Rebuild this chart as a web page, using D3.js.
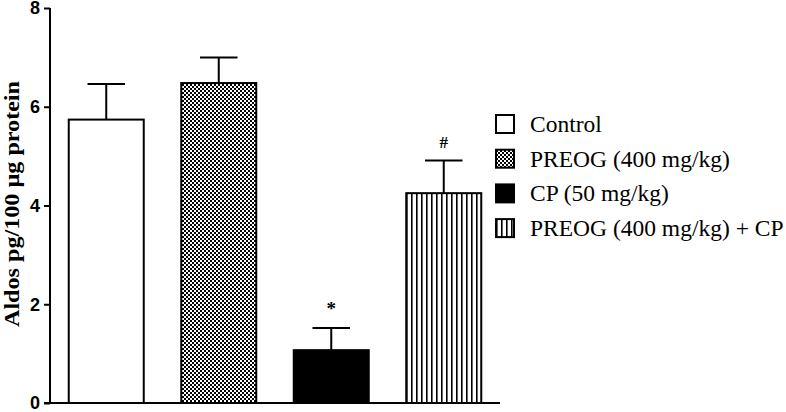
<!DOCTYPE html>
<html><head><meta charset="utf-8">
<script src="https://cdn.jsdelivr.net/npm/d3@7"></script>
<style>body{margin:0;background:#fff}svg{display:block}</style>
</head><body><svg id="c" width="786" height="412"></svg>
<script>
const categories = ["Control", "PREOG (400 mg/kg)", "CP (50 mg/kg)", "PREOG (400 mg/kg) + CP"];
const means = [5.74, 6.48, 1.07, 4.25];
const errors = [0.72, 0.52, 0.45, 0.66];
const marks = ["", "", "*", "#"];
const fills = ["white", "url(#checker)", "black", "url(#stripes)"];
const yTicks = [0, 2, 4, 6, 8];
const yLabel = "Aldos pg/100 µg protein";

const svg = d3.select("#c");
const defs = svg.append("defs");
const ck = defs.append("pattern").attr("id","checker").attr("patternUnits","userSpaceOnUse")
  .attr("width",4).attr("height",4);
ck.append("rect").attr("width",4).attr("height",4).attr("fill","black");
ck.append("rect").attr("x",0).attr("y",0).attr("width",2).attr("height",2).attr("fill","white").attr("shape-rendering","crispEdges");
ck.append("rect").attr("x",2).attr("y",2).attr("width",2).attr("height",2).attr("fill","white").attr("shape-rendering","crispEdges");
const st = defs.append("pattern").attr("id","stripes").attr("patternUnits","userSpaceOnUse")
  .attr("width",5).attr("height",5).attr("x",1);
st.append("rect").attr("width",5).attr("height",5).attr("fill","white");
st.append("rect").attr("x",0).attr("width",1.6).attr("height",5).attr("fill","black");

const x0 = 50, x1 = 500, yTop = 8, yBot = 403;
const x = d3.scaleBand().domain(categories).range([x0, x1]).paddingInner(1/3).paddingOuter(1/6);
const y = d3.scaleLinear().domain([0, 8]).range([yBot, yTop]);

// y axis
const yAxis = svg.append("g").attr("transform",`translate(${x0},0)`)
  .call(d3.axisLeft(y).tickValues(yTicks).tickSize(6).tickPadding(4).tickFormat(d3.format("d")));
yAxis.select(".domain").attr("stroke","black").attr("stroke-width",2).attr("d",`M0,${yTop}V${yBot}`);
yAxis.selectAll(".tick line").attr("stroke","black").attr("stroke-width",2);
yAxis.selectAll(".tick text").attr("font-family","Liberation Sans, Arial, sans-serif")
  .attr("font-weight","bold").attr("font-size",18).attr("fill","black");

// bars
const g = svg.append("g");
categories.forEach((c,i)=>{
  const bx = x(c), bw = x.bandwidth(), cx = bx + bw/2;
  const top = y(means[i]), et = y(means[i]+errors[i]);
  g.append("line").attr("x1",cx).attr("x2",cx).attr("y1",top).attr("y2",et).attr("stroke","black").attr("stroke-width",2);
  g.append("line").attr("x1",cx-bw/4).attr("x2",cx+bw/4).attr("y1",et).attr("y2",et).attr("stroke","black").attr("stroke-width",2);
  g.append("rect").attr("x",bx).attr("y",top).attr("width",bw).attr("height",yBot-top)
    .attr("fill",fills[i]).attr("stroke","black").attr("stroke-width",2);
  if (marks[i]) g.append("text").attr("x",cx).attr("y",et-13).attr("text-anchor","middle")
    .attr("font-family","Liberation Serif, Times New Roman, serif").attr("font-weight","bold")
    .attr("font-size", marks[i]==="*"?19:17).text(marks[i]);
});

// x axis line
svg.append("line").attr("x1",x0-6).attr("x2",x1).attr("y1",yBot).attr("y2",yBot).attr("stroke","black").attr("stroke-width",2);

// y label
svg.append("text").attr("transform",`translate(19,204) rotate(-90)`)
  .attr("text-anchor","middle").attr("font-family","Liberation Serif, Times New Roman, serif")
  .attr("font-weight","bold").attr("font-size",22)
  .attr("textLength",246).attr("lengthAdjust","spacingAndGlyphs").text(yLabel);

// legend
const lg = svg.append("g");
categories.forEach((c,i)=>{
  const cy = 124 + i*34.7;
  lg.append("rect").attr("x",496).attr("y",cy-9).attr("width",18).attr("height",18)
    .attr("fill",fills[i]).attr("stroke","black").attr("stroke-width",2);
  lg.append("text").attr("x",530).attr("y",cy+8).attr("font-family","Liberation Serif, Times New Roman, serif")
    .attr("font-size",23.5).text(c);
});
</script></body></html>
